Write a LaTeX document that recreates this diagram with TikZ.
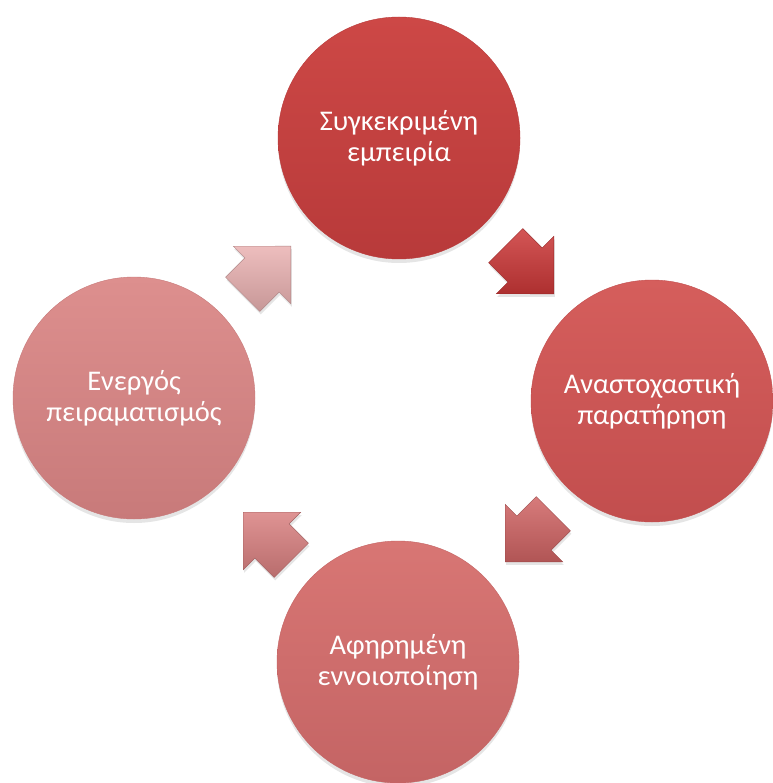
\documentclass[tikz,border=0pt]{standalone}
\usepackage{fontspec}
\setmainfont{Carlito}
\usepackage{tikz}
\usetikzlibrary{shapes.arrows,shadows,positioning}
\definecolor{myred}{RGB}{205,72,70}
\definecolor{myreddark}{RGB}{184,58,58}
\definecolor{mycoral}{RGB}{213,94,92}
\definecolor{mycoraldark}{RGB}{194,78,78}
\definecolor{myrose}{RGB}{216,118,116}
\definecolor{myrosedark}{RGB}{196,100,100}
\definecolor{mypink}{RGB}{221,143,142}
\definecolor{mypinkdark}{RGB}{200,122,122}
\definecolor{myarrowA}{RGB}{204,56,56}
\definecolor{myarrowB}{RGB}{208,100,100}
\definecolor{myarrowC}{RGB}{217,128,128}
\definecolor{myarrowD}{RGB}{234,178,178}
\tikzstyle{stage}=[circle,minimum size=242pt,inner sep=0pt,align=center,text=white,
  font=\fontsize{28.5}{31}\selectfont,
  drop shadow={opacity=0.2,shadow xshift=0pt,shadow yshift=-4pt}]
\tikzstyle{turn}=[single arrow,single arrow head extend=16.5pt,inner xsep=0pt,inner ysep=24pt,
  minimum height=68pt,anchor=tip,
  drop shadow={opacity=0.2,shadow xshift=1pt,shadow yshift=-3pt}]

\begin{document}
\begin{tikzpicture}[x=1pt,y=-1pt]
\useasboundingbox[fill=white] (0,0) rectangle (772,783);

\node [stage, top color=myred, bottom color=myreddark, draw=myreddark] (exp) at (399,138) {Συγκεκριμένη\\εμπειρία};
\node [stage, top color=mycoral, bottom color=mycoraldark, draw=mycoraldark] (obs) at (652,401) {Αναστοχαστική\\παρατήρηση};
\node [stage, top color=myrose, bottom color=myrosedark, draw=myrosedark] (con) at (398,662) {Αφηρημένη\\εννοιοποίηση};
\node [stage, top color=mypink, bottom color=mypinkdark, draw=mypinkdark] (act) at (134,398) {Ενεργός\\πειραματισμός};

\node [turn, rotate=-45, top color=myarrowA!85!white, bottom color=myarrowA!85!black, draw=myarrowA!75!black] (t1) at (554,294) {};
\node [turn, rotate=-135, top color=myarrowB!85!white, bottom color=myarrowB!85!black, draw=myarrowB!75!black] (t2) at (505,562) {};
\node [turn, rotate=135, top color=myarrowC!85!white, bottom color=myarrowC!85!black, draw=myarrowC!75!black] (t3) at (243,512) {};
\node [turn, rotate=45, top color=myarrowD!85!white, bottom color=myarrowD!85!black, draw=myarrowD!75!black] (t4) at (291,246) {};
\end{tikzpicture}
\end{document}
